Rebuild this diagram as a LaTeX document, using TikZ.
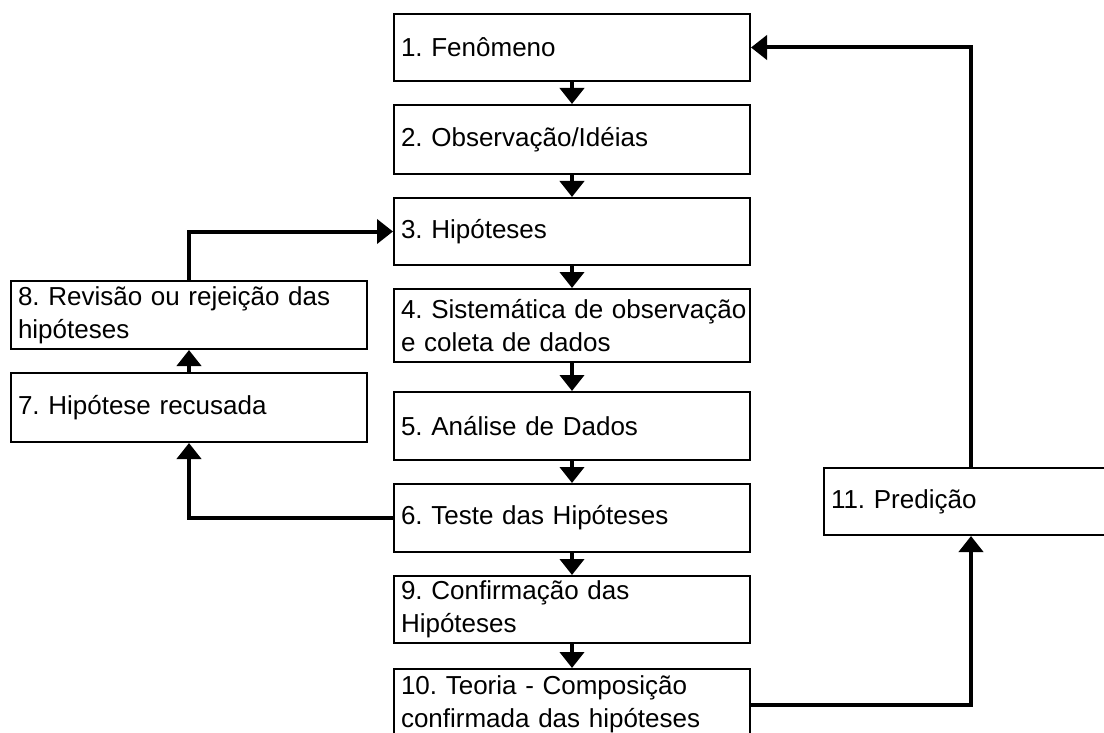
\documentclass[tikz,border=0pt]{standalone}
\usepackage{fontspec}
\setmainfont{Liberation Sans}
\usetikzlibrary{arrows.meta}
\frenchspacing

\tikzset{
  stepbox/.style={draw, line width=2pt, rectangle, anchor=north west,
    inner xsep=7pt, inner ysep=0pt, text width=#1, align=left,
    font=\fontsize{26pt}{33pt}\selectfont\frenchspacing},
  stepbox/.default=342pt,
  conn/.style={line width=4pt, -{Triangle[length=16pt,width=24pt]}},
}

\begin{document}
\begin{tikzpicture}[x=1pt,y=-1pt]
  \useasboundingbox (0,0) rectangle (1104,733);
  \fill[white] (0,0) rectangle (1104,733);
  \clip (0,0) rectangle (1104,733);

  % main column
  \node[stepbox, minimum height=67pt] (b1) at (393,13) {\mbox{1. Fenômeno}};
  \node[stepbox, minimum height=69pt] (b2) at (393,104) {\mbox{2. Observação/Idéias}};
  \node[stepbox, minimum height=67pt] (b3) at (393,197) {\mbox{3. Hipóteses}};
  \node[stepbox, minimum height=73pt] (b4) at (393,288) {\mbox{4. Sistemática de observação}\\\mbox{e coleta de dados}};
  \node[stepbox, minimum height=68pt] (b5) at (393,391) {\mbox{5. Análise de Dados}};
  \node[stepbox, minimum height=68pt] (b6) at (393,483) {\mbox{6. Teste das Hipóteses}};
  \node[stepbox, minimum height=67pt] (b9) at (393,575) {\mbox{9. Confirmação das}\\\mbox{Hipóteses}};
  \node[stepbox, minimum height=71pt] (b10) at (393,668) {\mbox{10. Teoria - Composição}\\\mbox{confirmada das hipóteses}};

  % rejection branch
  \node[stepbox, minimum height=68pt] (b8) at (10,280) {\mbox{8. Revisão ou rejeição das}\\\mbox{hipóteses}};
  \node[stepbox, minimum height=69pt] (b7) at (10,372) {\mbox{7. Hipótese recusada}};

  % prediction
  \node[stepbox=280pt, minimum height=67pt] (b11) at (823,467) {\mbox{11. Predição}};

  % flow down the main column
  \draw[conn] (b1.south) -- (b2.north);
  \draw[conn] (b2.south) -- (b3.north);
  \draw[conn] (b3.south) -- (b4.north);
  \draw[conn] (b4.south) -- (b5.north);
  \draw[conn] (b5.south) -- (b6.north);
  \draw[conn] (b6.south) -- (b9.north);
  \draw[conn] (b9.south) -- (b10.north);

  % rejection loop
  \draw[conn] (b6.west) -| (b7.south);
  \draw[conn] (b7.north) -- (b8.south);
  \draw[conn] (b8.north) |- (b3.west);

  % prediction loop
  \draw[conn] (b10.east) -| (b11.south);
  \draw[conn] (b11.north) |- (b1.east);
\end{tikzpicture}
\end{document}
